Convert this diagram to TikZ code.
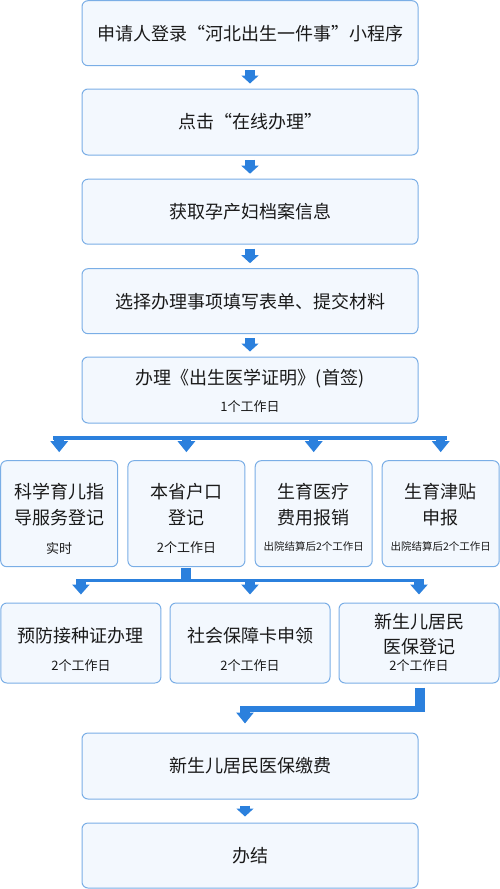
\documentclass[tikz,border=0pt]{standalone}
\usepackage{fontspec}
\setmainfont{Noto Sans CJK SC}
\usetikzlibrary{arrows.meta}
\definecolor{boxfill}{HTML}{F3F8FE}
\definecolor{boxline}{HTML}{7AAEE6}
\definecolor{arrowblue}{HTML}{2B80DD}
\definecolor{txt}{HTML}{1A1A1A}
\tikzset{
  box/.style={draw=boxline, fill=boxfill, line width=1pt, rounded corners=6pt, inner sep=0pt},
  mainbox/.style={box, minimum width=336pt},
  big/.style={font=\fontsize{18pt}{20pt}\selectfont, text=txt, inner sep=0pt},
  mid/.style={font=\fontsize{13pt}{15pt}\selectfont, text=txt, inner sep=0pt},
  tiny/.style={font=\fontsize{10.5pt}{12pt}\selectfont, text=txt, inner sep=0pt},
  flowarrow/.style={draw=arrowblue, line width=9.5pt, -{Triangle[width=17pt,length=8pt]}},
  brancharrow/.style={draw=arrowblue, line width=9.5pt, -{Triangle[width=17pt,length=11pt]}},
  brancharrowb/.style={draw=arrowblue, line width=9.5pt, -{Triangle[width=17pt,length=10pt]}},
  barline/.style={draw=arrowblue, line width=4pt},
}
\begin{document}
\begin{tikzpicture}[x=1pt,y=-1pt]
\useasboundingbox (0,0) rectangle (500,889);
% main column
\node[mainbox, minimum height=65pt] (m1) at (250,33.2) {};
\node[big] (t1) at (250,33.2) {申请人登录“河北出生一件事”小程序};
\node[mainbox, minimum height=66pt] (m2) at (250,122) {};
\node[big] (t2) at (250,122) {点击“在线办理”};
\node[mainbox, minimum height=65pt] (m3) at (250,211.7) {};
\node[big] (t3) at (250,211.7) {获取孕产妇档案信息};
\node[mainbox, minimum height=65pt] (m4) at (250,301.2) {};
\node[big] (t4) at (250,301.2) {选择办理事项填写表单、提交材料};
\node[mainbox, minimum height=66pt] (m5) at (250,390) {};
\node[big] (t5) at (250,379) {办理《出生医学证明》(首签)};
\node[mid] (t5b) at (250,406.7) {1个工作日};
% row 2
\node[box, minimum width=117pt, minimum height=106pt] (a1) at (59.2,513.7) {};
\node[big] (a1l1) at (59.2,491.7) {科学育儿指};
\node[big] (a1l2) at (59.2,518) {导服务登记};
\node[mid] (a1l3) at (59.2,548) {实时};
\node[box, minimum width=117pt, minimum height=106pt] (a2) at (186.4,513.7) {};
\node[big] (a2l1) at (186.4,491.7) {本省户口};
\node[big] (a2l2) at (186.4,518) {登记};
\node[mid] (a2l3) at (186.4,548) {2个工作日};
\node[box, minimum width=117pt, minimum height=106pt] (a3) at (313.7,513.7) {};
\node[big] (a3l1) at (313.7,491.7) {生育医疗};
\node[big] (a3l2) at (313.7,518) {费用报销};
\node[tiny] (a3l3) at (313.7,546.5) {出院结算后2个工作日};
\node[box, minimum width=117pt, minimum height=106pt] (a4) at (440.7,513.7) {};
\node[big] (a4l1) at (440.7,491.7) {生育津贴};
\node[big] (a4l2) at (440.7,518) {申报};
\node[tiny] (a4l3) at (440.7,546.5) {出院结算后2个工作日};
% row 3
\node[box, minimum width=160pt, minimum height=80pt] (b1) at (80.9,643) {};
\node[big] (b1l1) at (80.9,636) {预防接种证办理};
\node[mid] (b1l2) at (80.9,666) {2个工作日};
\node[box, minimum width=160pt, minimum height=80pt] (b2) at (250,643) {};
\node[big] (b2l1) at (250,636) {社会保障卡申领};
\node[mid] (b2l2) at (250,666) {2个工作日};
\node[box, minimum width=160pt, minimum height=80pt] (b3) at (419,643) {};
\node[big] (b3l1) at (419,621.7) {新生儿居民};
\node[big] (b3l2) at (419,647) {医保登记};
\node[mid] (b3l3) at (419,665.5) {2个工作日};
% bottom column
\node[mainbox, minimum height=66pt] (m6) at (250,766) {};
\node[big] (t6) at (250,766) {新生儿居民医保缴费};
\node[mainbox, minimum height=65pt] (m7) at (250,855.5) {};
\node[big] (t7) at (250,855.5) {办结};
% main arrows
\foreach \u/\v in {m1/m2,m2/m3,m3/m4,m4/m5}
  \draw[flowarrow, shorten <=4pt, shorten >=5pt] (\u.south) -- (\v.north);
% branch 1
\coordinate (bl) at (53,438);
\coordinate (br) at (447,438);
\draw[barline] (bl) -- (br);
\foreach \n in {a1,a2,a3,a4}
  \draw[brancharrow, shorten >=8pt] (\n.north |- bl) -- (\n.north);
% branch 2
\coordinate (cl) at (76,580.5);
\coordinate (cr) at (424,580.5);
\draw[barline, line width=3.5pt] (cl) -- (cr);
\draw[draw=arrowblue, line width=10pt, shorten <=1pt] (a2.south) -- (a2.south |- cl);
\foreach \n in {b1,b2,b3}
  \draw[brancharrowb, shorten >=8pt] (\n.north |- cl) -- (\n.north);
% branch 3
\coordinate (dk) at (420,709);
\coordinate (dl) at (240,709);
\coordinate (dt) at (245,707);
\draw[draw=arrowblue, line width=10pt, shorten <=4pt] (b3.south -| dk) -- ([yshift=-3pt]dk);
\draw[draw=arrowblue, line width=6pt] ([xshift=5pt]dk) -- (dl);
\draw[brancharrow, shorten >=9pt] (dt) -- (dt |- m6.north);
\draw[flowarrow, shorten <=6pt, shorten >=6pt] (m6.south -| dt) -- (m7.north -| dt);
\end{tikzpicture}
\end{document}
